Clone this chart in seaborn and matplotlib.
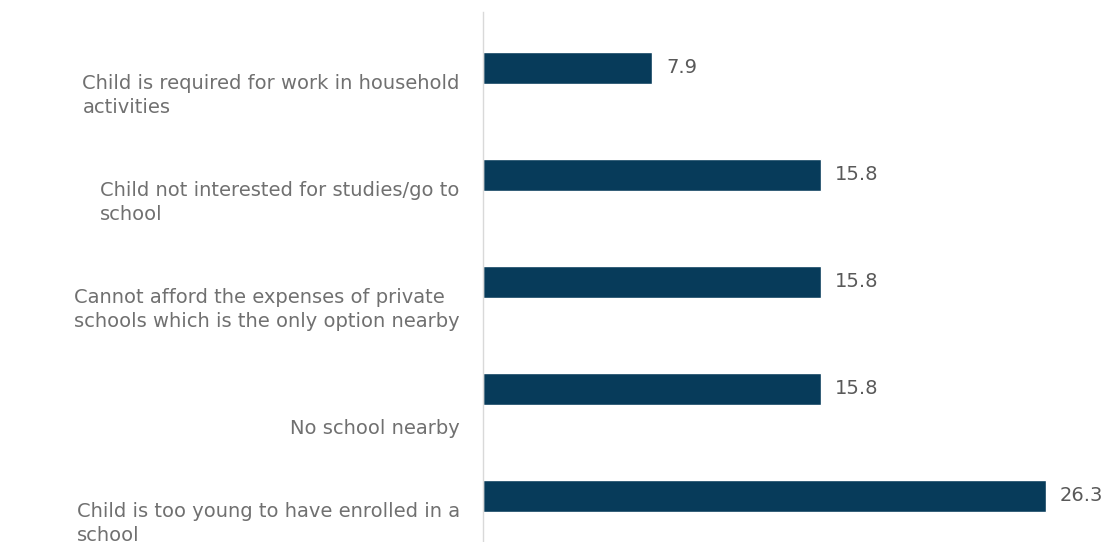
import matplotlib
matplotlib.use('Agg')
import matplotlib.pyplot as plt
import seaborn as sns
import pandas as pd

# data
reasons = ['Child is required for work in household\nactivities',
           'Child not interested for studies/go to\nschool',
           'Cannot afford the expenses of private\nschools which is the only option nearby',
           'No school nearby',
           'Child is too young to have enrolled in a\nschool']
share = [7.9, 15.8, 15.8, 15.8, 26.3]

df = pd.DataFrame({'reason': reasons, 'share': share})

sns.set_style('white')
plt.rcParams['font.family'] = ['DejaVu Sans']

fig = plt.figure(figsize=(11.1, 5.42), dpi=100)
ax = fig.add_axes([483/1110, 0, 1 - 483/1110, 1 - 12/542])

sns.barplot(data=df, x='share', y='reason', color='#073b5a', saturation=1,
            width=0.3, orient='h', ax=ax)

ax.set_xlim(0, 29.3)
ax.set_ylim(4.43, -0.523)
ax.set_xlabel('')
ax.set_ylabel('')
ax.set_xticks([])
ax.set_yticks([])
for s in ['top', 'right', 'bottom']:
    ax.spines[s].set_visible(False)
ax.spines['left'].set_color('#d9d9d9')
ax.spines['left'].set_linewidth(1)

# category labels sit below the bar centre, like the original
for i, r in enumerate(reasons):
    ax.text(-0.037, i + 0.455, r, transform=ax.get_yaxis_transform(),
            ha='right', va='bottom', multialignment='left',
            fontsize=14, color='#707070', linespacing=1.3, clip_on=False)

# value labels
for i, v in enumerate(share):
    ax.text(v + 0.65, i, f'{v:.1f}', ha='left', va='center',
            fontsize=14, color='#595959')

fig.savefig('out.png', dpi=100)
